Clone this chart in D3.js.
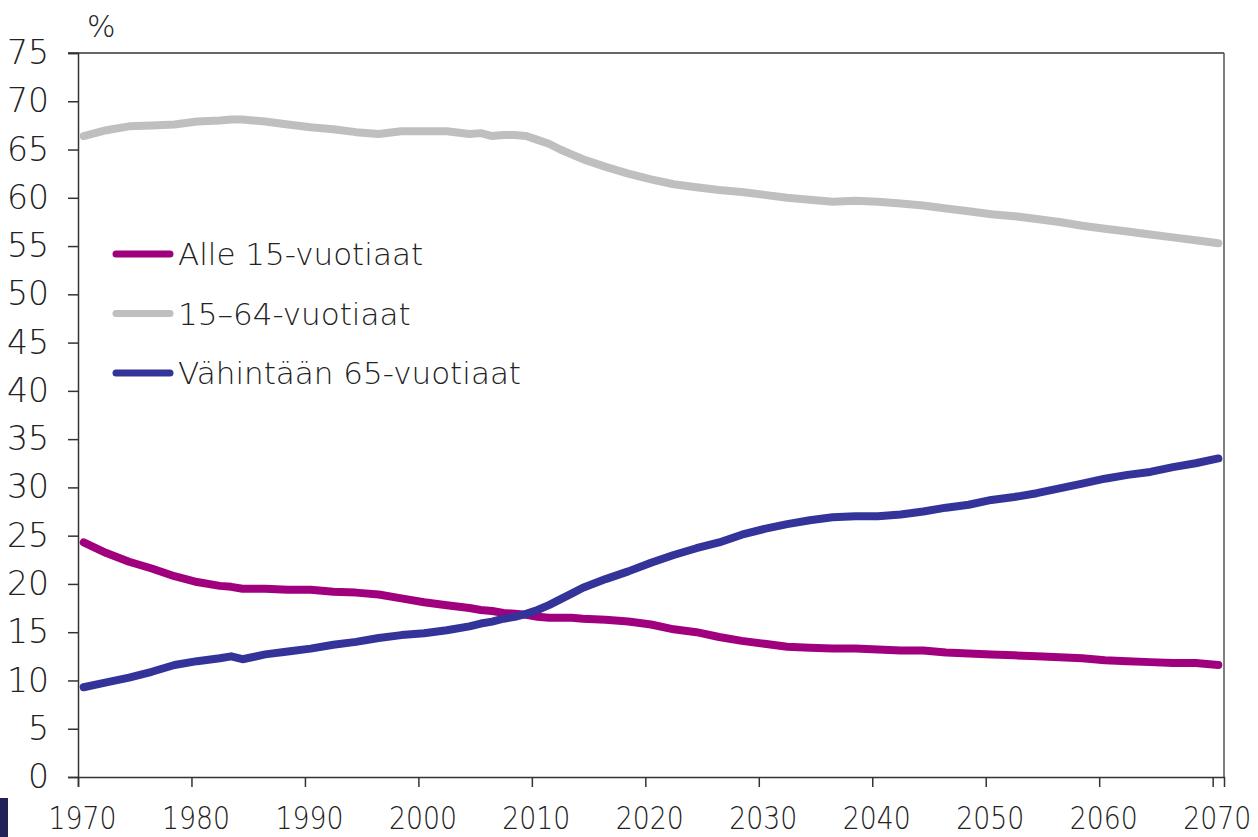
<!DOCTYPE html>
<html>
<head>
<meta charset="utf-8">
<script src="https://cdn.jsdelivr.net/npm/d3@7"></script>
<style>
  body { margin: 0; background: #fff; }
  svg text { font-family: "DejaVu Sans", sans-serif; font-weight: 200; fill: #222; }
</style>
</head>
<body>
<svg id="chart" width="1258" height="837"></svg>
<script>
// years (values plotted in the middle of each year, like an Excel category axis)
var years = [1970,1972,1974,1976,1978,1980,1982,1983,1984,1986,1988,1990,1992,1994,1996,1998,2000,2002,2004,
  2005,2006,2007,2008,2009,2010,2011,2012,2013,2014,
  2016,2018,2020,2022,2024,2026,2028,2030,2032,2034,2036,2038,2040,2042,2044,2046,2048,2050,2052,2054,2056,2058,2060,2062,2064,2066,2068,2070];

var alle15 = [24.3,23.2,22.3,21.6,20.8,20.2,19.8,19.7,19.5,19.5,19.4,19.4,19.2,19.1,18.9,18.5,18.1,17.8,17.5,
  17.3,17.2,17.0,16.9,16.8,16.6,16.5,16.5,16.5,16.4,
  16.3,16.1,15.8,15.3,15.0,14.5,14.1,13.8,13.5,13.4,13.3,13.3,13.2,13.1,13.1,12.9,12.8,12.7,12.6,12.5,12.4,12.3,12.1,12.0,11.9,11.8,11.8,11.6];

var tyoikaiset = [66.4,67.0,67.4,67.5,67.6,67.9,68.0,68.1,68.1,67.9,67.6,67.3,67.1,66.8,66.6,66.9,66.9,66.9,66.6,
  66.7,66.4,66.5,66.5,66.4,66.0,65.6,65.0,64.5,64.0,
  63.2,62.5,61.9,61.4,61.1,60.8,60.6,60.3,60.0,59.8,59.6,59.7,59.6,59.4,59.2,58.9,58.6,58.3,58.1,57.8,57.5,57.1,56.8,56.5,56.2,55.9,55.6,55.3];

var yli65 = [9.3,9.8,10.3,10.9,11.6,12.0,12.3,12.5,12.2,12.7,13.0,13.3,13.7,14.0,14.4,14.7,14.9,15.2,15.6,
  15.9,16.1,16.4,16.6,16.9,17.3,17.8,18.4,19.0,19.6,
  20.5,21.3,22.2,23.0,23.7,24.3,25.1,25.7,26.2,26.6,26.9,27.0,27.0,27.2,27.5,27.9,28.2,28.7,29.0,29.4,29.9,30.4,30.9,31.3,31.6,32.1,32.5,33.0];

var seriesNames = ["Alle 15-vuotiaat", "15\u201364-vuotiaat", "V\u00e4hint\u00e4\u00e4n 65-vuotiaat"];
var seriesColors = ["#a0007e", "#bfbfbf", "#333399"];
var yTicks = [0,5,10,15,20,25,30,35,40,45,50,55,60,65,70,75];
var xTicks = [1970,1980,1990,2000,2010,2020,2030,2040,2050,2060,2070];

var series = [alle15, tyoikaiset, yli65].map(function(vals, i){
  return {name: seriesNames[i], color: seriesColors[i],
          values: years.map(function(y, j){ return {year: y, v: vals[j]}; })};
});

var svg = d3.select("#chart");
var pLeft = 78, pRight = 1224, pTop = 53, pBottom = 777;

var x = d3.scaleLinear().domain([1970, 2071]).range([pLeft, pRight]);
var y = d3.scaleLinear().domain([0, 75]).range([pBottom, pTop]);

// frame: top and right borders
svg.append("line").attr("x1", pLeft - 10).attr("x2", pRight).attr("y1", pTop).attr("y2", pTop)
  .attr("stroke", "#333").attr("stroke-width", 1.5);
svg.append("line").attr("x1", pRight).attr("x2", pRight).attr("y1", pTop).attr("y2", pBottom)
  .attr("stroke", "#555").attr("stroke-width", 1.5);

// y axis
var yAxis = svg.append("g").attr("transform", "translate(" + pLeft + ",0)")
  .call(d3.axisLeft(y).tickValues(yTicks).tickSize(10).tickPadding(19));
yAxis.select(".domain").attr("stroke", "#333").attr("stroke-width", 1.5);
yAxis.selectAll(".tick line").attr("stroke", "#333").attr("stroke-width", 1.5);
yAxis.selectAll(".tick text").attr("font-size", 33).attr("font-family", null).attr("fill", "#222");

// x axis
var xAxis = svg.append("g").attr("transform", "translate(0," + pBottom + ")")
  .call(d3.axisBottom(x).tickValues(xTicks).tickFormat(d3.format("d")).tickSize(10).tickPadding(19));
xAxis.select(".domain").attr("stroke", "#333").attr("stroke-width", 1.5);
xAxis.selectAll(".tick text").attr("font-size", 32).attr("font-family", null).attr("fill", "#222")
  .attr("dx", 4).attr("textLength", 68).attr("lengthAdjust", "spacingAndGlyphs");
xAxis.selectAll(".tick line").attr("stroke", "#333").attr("stroke-width", 1.5);

// unit label
svg.append("text").attr("x", 87).attr("y", 37).attr("font-size", 30).text("%");

// lines
var line = d3.line()
  .x(function(d){ return x(d.year + 0.5); })
  .y(function(d){ return y(d.v); });

svg.selectAll("path.serie")
  .data(series)
  .enter()
  .append("path")
  .attr("class", "serie")
  .attr("d", function(d){ return line(d.values); })
  .attr("fill", "none")
  .attr("stroke", function(d){ return d.color; })
  .attr("stroke-width", 8)
  .attr("stroke-linecap", "round")
  .attr("stroke-linejoin", "round");

// legend
var legend = svg.selectAll("g.legend")
  .data(series)
  .enter()
  .append("g")
  .attr("class", "legend")
  .attr("transform", function(d, i){ return "translate(0," + (254 + i * 59.5) + ")"; });
legend.append("line").attr("x1", 116).attr("x2", 170)
  .attr("stroke", function(d){ return d.color; })
  .attr("stroke-width", 7).attr("stroke-linecap", "round");
legend.append("text").attr("x", 178).attr("dy", "0.36em").attr("font-size", 31)
  .text(function(d){ return d.name; });

// dark tab at the lower left corner
svg.append("rect").attr("x", 0).attr("y", 798).attr("width", 8).attr("height", 39).attr("fill", "#22225a");
</script>
</body>
</html>
